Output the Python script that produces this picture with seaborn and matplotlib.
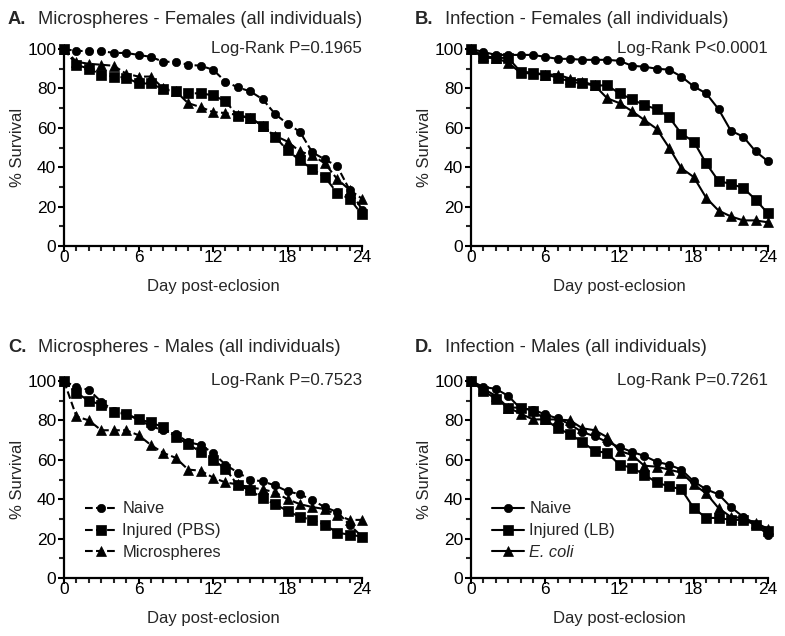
import numpy as np
import pandas as pd
import matplotlib
matplotlib.use('Agg')
import matplotlib.pyplot as plt
import seaborn as sns
from matplotlib.ticker import MultipleLocator

days = list(range(25))

# A. Microspheres - Females
a_naive = [100, 99, 99, 99, 98, 98, 97, 96, 93.5, 93.5, 92, 91.5, 89.5, 83.5, 80.5, 78.5, 74.5, 67, 62, 58, 47.5, 44, 40.5, 28.5, 18.5]
a_pbs = [100, 92, 90, 87, 86, 85.5, 82.5, 82.5, 79.5, 78.5, 77.5, 77.5, 76.5, 73.5, 66, 65, 61, 55.5, 48.5, 43.5, 39, 35, 27, 24, 16]
a_micro = [100, 93.5, 92.5, 92, 91.5, 87.5, 86, 86, 80, 78.5, 72.5, 70.5, 68, 67.5, 66.5, 65, 61, 56, 53, 48, 46, 42, 34, 28.5, 24]

# B. Infection - Females
b_naive = [100, 98.5, 97, 97, 97, 97, 96, 95, 95, 94.5, 94.5, 94.5, 94, 91.5, 91, 90, 89.5, 86, 81, 77.5, 69.5, 58.5, 55.5, 48, 43]
b_lb = [100, 95.5, 95.5, 95.5, 88.5, 88, 87, 85.5, 83.5, 82.5, 81.5, 81.5, 77.5, 74.5, 71.5, 69.5, 65.5, 57, 53, 42, 33, 31.5, 29.5, 23.5, 16.5]
b_ecoli = [100, 96.5, 95.5, 93, 88, 87.5, 87, 87, 85, 83.5, 81.5, 75, 72.5, 68.5, 64, 59.5, 50, 39.5, 35, 24.5, 18, 15, 13, 13, 12]

# C. Microspheres - Males
c_naive = [100, 97, 95.5, 89.5, 85, 83.5, 80.5, 77, 75, 73, 69, 67.5, 63.5, 57.5, 53.5, 50, 49, 47, 44, 42.5, 39.5, 36, 33.5, 27, 21]
c_pbs = [100, 94, 90, 88, 84.5, 83, 80.5, 79, 76.5, 71.5, 68, 64, 60, 55.5, 47, 44.5, 40.5, 37.5, 34, 31, 29.5, 27, 23, 22, 21]
c_micro = [100, 82, 80, 75, 75, 75, 72.5, 67.5, 63.5, 61, 55, 54.5, 51, 48.5, 47.5, 46, 45, 43.5, 40, 37.5, 36, 35, 32, 29.5, 29.5]

# D. Infection - Males
d_naive = [100, 97, 96, 92.5, 86, 85.5, 83, 81, 78, 74, 72, 69, 66.5, 64, 62, 59, 57.5, 55, 49, 45, 42.5, 36, 31, 27, 22]
d_lb = [100, 95, 91, 86.5, 86.5, 85, 80.5, 76, 73, 69, 64.5, 63.5, 57.5, 56, 52.5, 48.5, 46.5, 45, 35.5, 30.5, 30.5, 29.5, 29.5, 27, 24]
d_ecoli = [100, 96, 92.5, 86.5, 83.5, 80.5, 80.5, 80.5, 80, 76, 75, 71.5, 64.5, 62.5, 57, 56.5, 55, 53.5, 47.5, 43, 35.5, 31, 30.5, 28, 25]

labels_ms = ['Naive', 'Injured (PBS)', 'Microspheres']
labels_inf = ['Naive', 'Injured (LB)', 'E. coli']
markers = ['o', 's', '^']

panels = [
    ('A.', 'Microspheres - Females (all individuals)', 'Log-Rank P=0.1965', [a_naive, a_pbs, a_micro], labels_ms, '--', False),
    ('B.', 'Infection - Females (all individuals)', 'Log-Rank P<0.0001', [b_naive, b_lb, b_ecoli], labels_inf, '-', False),
    ('C.', 'Microspheres - Males (all individuals)', 'Log-Rank P=0.7523', [c_naive, c_pbs, c_micro], labels_ms, '--', True),
    ('D.', 'Infection - Males (all individuals)', 'Log-Rank P=0.7261', [d_naive, d_lb, d_ecoli], labels_inf, '-', True),
]

sns.set_style('ticks')
plt.rcParams['font.family'] = ['Liberation Sans', 'DejaVu Sans']

W, H = 785, 636
fig = plt.figure(figsize=(W / 100, H / 100), dpi=100)

# axes boxes in pixels: left, top, right, bottom
boxes = [(64, 49, 362, 246), (471, 49, 768, 246), (64, 381, 362, 578), (471, 381, 768, 578)]
title_pos = [(8, 19), (415, 19), (8, 347), (415, 347)]

for (letter, title, pval, series, labels, ls, show_leg), box, tpos in zip(panels, boxes, title_pos):
    l, t, r, b = box
    ax = fig.add_axes([l / W, 1 - b / H, (r - l) / W, (b - t) / H])
    for vals, lab, mk in zip(series, labels, markers):
        df = pd.DataFrame({'Day': days, 'Survival': vals})
        kw = dict(dashes=(3, 1.5)) if ls == '--' else {}
        sns.lineplot(data=df, x='Day', y='Survival', ax=ax, color='black', linestyle=ls,
                     marker=mk, markersize=6.5 if mk != 'o' else 6, markeredgecolor='black',
                     markeredgewidth=0.5, linewidth=1.5, label=lab, clip_on=False, **kw)
    ax.set_xlim(0, 24)
    ax.set_ylim(0, 100)
    ax.xaxis.set_major_locator(MultipleLocator(6))
    ax.xaxis.set_minor_locator(MultipleLocator(1))
    ax.yaxis.set_major_locator(MultipleLocator(20))
    ax.yaxis.set_minor_locator(MultipleLocator(10))
    ax.tick_params(which='major', length=4.5, width=1.5, labelsize=12.5, colors='black', pad=1)
    ax.tick_params(axis='x', which='major', pad=-1.5)
    ax.tick_params(which='minor', length=3.5, width=1.5)
    for s in ['left', 'bottom']:
        ax.spines[s].set_linewidth(1.6)
        ax.spines[s].set_color('black')
    sns.despine(ax=ax)
    ax.set_xlabel('Day post-eclosion', fontsize=12, labelpad=10)
    ax.set_ylabel('% Survival', fontsize=12, labelpad=1.5)
    ax.text(1.0, 1.0, pval, transform=ax.transAxes, ha='right', va='center', fontsize=12.2)

    leg = ax.get_legend()
    if leg is not None:
        leg.remove()
    if show_leg:
        leg = ax.legend(loc='lower left', bbox_to_anchor=(0.047, 0.057), frameon=False, fontsize=11.8,
                        handlelength=2.0, handletextpad=0.3, labelspacing=0.42, borderaxespad=0)
        if labels[2] == 'E. coli':
            leg.get_texts()[2].set_fontstyle('italic')

    fig.text(tpos[0] / W, 1 - tpos[1] / H, letter, fontsize=13.2, fontweight='bold', ha='left', va='center')
    fig.text((tpos[0] + 30) / W, 1 - tpos[1] / H, title, fontsize=13.2, ha='left', va='center')

fig.savefig('out.png', dpi=100)
